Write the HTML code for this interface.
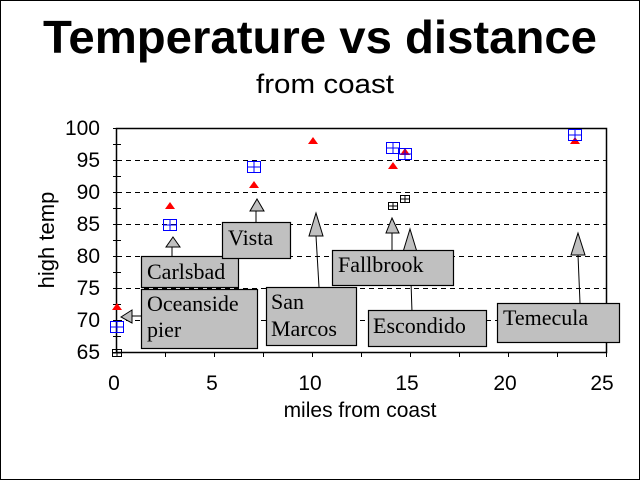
<!DOCTYPE html>
<html><head><meta charset="utf-8"><style>
html,body{margin:0;padding:0;background:#fff}
svg{display:block}
text{font-family:"Liberation Sans",Arial,sans-serif}
.s{font-family:"Liberation Serif","Times New Roman",serif;font-size:22px}
</style></head><body>
<svg width="640" height="480" viewBox="0 0 640 480" xmlns="http://www.w3.org/2000/svg">
<rect x="0.5" y="0.5" width="639" height="479" fill="#fff" stroke="#000"/>
<text x="320" y="53" font-size="46" font-weight="bold" text-anchor="middle" textLength="554" lengthAdjust="spacingAndGlyphs">Temperature vs distance</text>
<text x="325" y="93" font-size="27" text-anchor="middle" textLength="138" lengthAdjust="spacingAndGlyphs">from coast</text>
<g stroke="#000" stroke-dasharray="5,4" stroke-width="1">
<line x1="117" x2="607" y1="160.5" y2="160.5"/><line x1="117" x2="607" y1="192.5" y2="192.5"/>
<line x1="117" x2="607" y1="224.5" y2="224.5"/><line x1="117" x2="607" y1="256.5" y2="256.5"/>
<line x1="117" x2="607" y1="288.5" y2="288.5"/><line x1="117" x2="607" y1="320.5" y2="320.5"/>
</g>
<rect x="116.5" y="128.5" width="490" height="224" fill="none" stroke="#000" stroke-width="1.5"/>
<g stroke="#000">
<path d="M113 128.5h8M113 144.5h8M113 160.5h8M113 176.5h8M113 192.5h8M113 208.5h8M113 224.5h8M113 240.5h8M113 256.5h8M113 272.5h8M113 288.5h8M113 304.5h8M113 320.5h8M113 336.5h8M113 352.5h8"/>
<path d="M165.5 352v5M214.5 352v5M263.5 352v5M312.5 352v5M361.5 352v5M410.5 352v5M459.5 352v5M508.5 352v5M557.5 352v5M606.5 352v5"/>
</g>
<g font-size="21" text-anchor="end">
<text x="100" y="135">100</text><text x="100" y="167">95</text><text x="100" y="199">90</text><text x="100" y="231">85</text><text x="100" y="263">80</text><text x="100" y="295">75</text><text x="100" y="327">70</text><text x="100" y="359">65</text>
</g>
<g font-size="21" text-anchor="middle">
<text x="114" y="390">0</text><text x="212" y="390">5</text><text x="310" y="390">10</text><text x="407" y="390">15</text><text x="505" y="390">20</text><text x="602" y="390">25</text>
</g>
<text x="360" y="417" font-size="21" text-anchor="middle">miles from coast</text>
<text transform="translate(54,240) rotate(-90)" font-size="22" text-anchor="middle">high temp</text>
<g fill="#f00">
<path d="M117 303l5 7h-10z"/><path d="M170 202l5 7h-10z"/><path d="M254 181l5 7h-10z"/><path d="M313 137l5 7h-10z"/><path d="M393 162l5 7h-10z"/><path d="M405 148l5 7h-10z"/><path d="M575 137l5 7h-10z"/>
</g>
<g fill="none" stroke="#00f">
<g transform="translate(117,327)"><rect x="-6.5" y="-5.5" width="13" height="11"/><path d="M0 -5.5v11M-6.5 0h13"/></g>
<g transform="translate(170,225)"><rect x="-6.5" y="-5.5" width="13" height="11"/><path d="M0 -5.5v11M-6.5 0h13"/></g>
<g transform="translate(254,167)"><rect x="-6.5" y="-5.5" width="13" height="11"/><path d="M0 -5.5v11M-6.5 0h13"/></g>
<g transform="translate(393,148)"><rect x="-6.5" y="-5.5" width="13" height="11"/><path d="M0 -5.5v11M-6.5 0h13"/></g>
<g transform="translate(405,154)"><rect x="-6.5" y="-5.5" width="13" height="11"/><path d="M0 -5.5v11M-6.5 0h13"/></g>
<g transform="translate(575,135)"><rect x="-6.5" y="-5.5" width="13" height="11"/><path d="M0 -5.5v11M-6.5 0h13"/></g>
</g>
<g fill="none" stroke="#000">
<g transform="translate(117,353)"><rect x="-4.5" y="-3.5" width="9" height="7"/><path d="M0 -3.5v7M-4.5 0h9"/></g>
<g transform="translate(393,206)"><rect x="-4.5" y="-3.5" width="9" height="7"/><path d="M0 -3.5v7M-4.5 0h9"/></g>
<g transform="translate(405,199)"><rect x="-4.5" y="-3.5" width="9" height="7"/><path d="M0 -3.5v7M-4.5 0h9"/></g>
</g>
<g stroke="#000" fill="#c0c0c0" stroke-width="1">
<path d="M132 316H141" fill="none"/><path d="M121 317L132 310V323Z"/>
<path d="M172 247V256" fill="none"/><path d="M173 237L180 247H166Z"/>
<path d="M256 211L256 222" fill="none"/><path d="M257 199L264 211H250Z"/>
<path d="M316 236L319 287" fill="none"/><path d="M316 213L323 236H309Z"/>
<path d="M392 233V250" fill="none"/><path d="M392 218L399 233H386Z"/>
<path d="M410 252L412 312" fill="none"/><path d="M410 229L417 252H403Z"/>
<path d="M578 255L580 303" fill="none"/><path d="M578 233L585 255H571Z"/>
</g>
<g fill="#c0c0c0" stroke="#000" stroke-width="1.2">
<rect x="141.5" y="256.5" width="97" height="31"/>
<rect x="141.5" y="289.5" width="116" height="59"/>
<rect x="222.5" y="222.5" width="68" height="36"/>
<rect x="266.5" y="287.5" width="90" height="58"/>
<rect x="332.5" y="250.5" width="121" height="35"/>
<rect x="368.5" y="310.5" width="118" height="36"/>
<rect x="497.5" y="303.5" width="122" height="39"/>
</g>
<g fill="#000">
<text x="147" y="279" class="s">Carlsbad</text>
<text x="147" y="311" class="s">Oceanside</text>
<text x="147" y="337" class="s">pier</text>
<text x="228" y="245" class="s">Vista</text>
<text x="271" y="309" class="s">San</text>
<text x="271" y="336" class="s">Marcos</text>
<text x="338" y="272" class="s">Fallbrook</text>
<text x="373" y="333" class="s">Escondido</text>
<text x="503" y="325" class="s">Temecula</text>
</g>
</svg>
</body></html>
